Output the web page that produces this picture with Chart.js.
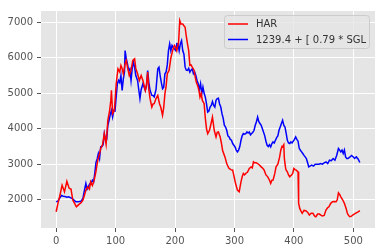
<!DOCTYPE html>
<html>
<head>
<meta charset="utf-8">
<script src="https://cdn.jsdelivr.net/npm/chart.js@4"></script>
<style>
  html, body { margin: 0; padding: 0; background: #fff; }
  #wrap { width: 385px; height: 252px; position: relative; }
</style>
</head>
<body>
<div id="wrap"><canvas id="chart"></canvas></div>
<script>
// ── Series data ──────────────────────────────────────────────────
const SERIES_LABELS = ["HAR", "1239.4 + [ 0.79 * SGL"];

const harX = [0, 3, 6, 10, 14, 18, 22, 25, 28, 31, 34, 37, 39, 42, 45, 48, 50, 53, 56, 58, 61, 64, 67,
  70, 73, 75, 78, 81, 84, 87, 90, 92, 93, 95, 98, 101, 104, 107, 109, 111, 113, 116, 118, 120, 123, 126, 129,
  132, 134, 137, 140, 143, 146, 150, 152, 154, 156, 158, 161, 163, 165, 168, 171, 174, 176, 179, 181, 183, 185,
  187, 190, 193, 196, 199, 201, 203, 206, 208, 210, 213, 215, 217, 219, 221, 223, 225, 227, 229, 232, 234, 236,
  238, 240, 242, 244, 246, 249, 251, 253, 255, 258, 260, 263, 266, 269, 271, 273, 276, 278, 280, 282, 284, 287,
  289, 291, 294, 297, 300, 302, 305, 308, 311, 313, 315, 317, 319, 322, 325, 328, 330, 332, 334, 336, 339, 342,
  345, 348, 350, 353, 356, 359, 361, 363, 365, 368, 370, 373, 376, 378, 380, 381, 383, 384, 386, 387, 389, 391,
  393, 396, 398, 400, 402, 404, 406, 407, 408, 410, 412, 414, 417, 420, 423, 426, 429, 432, 435, 437, 440, 443,
  446, 448, 451, 454, 457, 459, 462, 465, 468, 471, 473, 475, 477, 479, 482, 485, 488, 490, 492, 494, 497, 499,
  502, 505, 508, 511];
const harY = [1663, 1900, 2100, 2413, 2225, 2520, 2320, 2300, 1991, 1900, 1803, 1850, 1879, 1920, 1991, 2150, 2272, 2365, 2300, 2506, 2400, 2553, 2800,
  3115, 3300, 3444, 3550, 3865, 3560, 4239, 4520, 4800, 5082, 4427, 4520, 5270, 5690, 5600, 5784, 5700, 5550, 5830, 5924, 5736, 5503, 5650, 5924,
  5970, 5700, 5550, 5362, 5500, 5362, 5082, 5250, 5596, 5100, 4848, 4612, 4700, 4708, 4850, 4941, 4700, 4612, 4379, 4600, 4989, 5200,
  5550, 5643, 6000, 6205, 6350, 6298, 6200, 6438, 7048, 6955, 6955, 6900, 6860, 6600, 6393, 6200, 5784, 5800, 5736, 5650, 5455, 5300,
  5222, 5100, 4893, 5000, 4800, 4708, 4300, 4000, 3865, 3958, 4100, 4332, 3958, 3770, 3900, 3910, 3770, 3600, 3396, 3300, 3208, 3022,
  2950, 2882, 2850, 2834, 2601, 2450, 2272, 2225, 2506, 2650, 2741, 2700, 2741, 2780, 2882, 2927, 2900, 3068, 3040, 3050, 3022, 2980,
  2927, 2880, 2834, 2700, 2646, 2550, 2460, 2550, 2553, 2750, 2927, 3000, 3200, 3396, 3500, 3489, 3550, 3163, 2900, 2834, 2787, 2700,
  2646, 2700, 2741, 2882, 2850, 2834, 2800, 2787, 1899, 1750, 1680, 1618, 1700, 1691, 1650, 1570, 1620, 1618, 1540, 1522, 1600, 1598,
  1560, 1542, 1560, 1710, 1780, 1803, 1900, 1944, 1950, 1944, 2000, 2197, 2150, 2084, 2000, 1899, 1750, 1618, 1560, 1522, 1540, 1570,
  1600, 1634, 1660, 1691];

const sglX = [0, 3, 6, 9, 12, 15, 18, 21, 24, 27, 30, 33, 36, 39, 42, 45, 48, 50, 52, 55, 57, 59, 61, 63, 65, 67, 69,
  71, 73, 75, 77, 79, 81, 83, 85, 87, 89, 91, 93, 95, 97, 99, 101, 103, 105, 107, 109, 111, 113, 115, 116, 118, 120,
  122, 124, 126, 128, 130, 132, 134, 137, 139, 141, 143, 146, 148, 150, 152, 154, 156, 158, 161, 163, 165, 168, 171, 173,
  175, 177, 179, 181, 183, 185, 187, 189, 191, 193, 195, 197, 199, 201, 203, 205, 207, 209, 211, 213, 215, 217, 219, 221,
  223, 225, 227, 229, 231, 233, 235, 237, 239, 241, 243, 245, 247, 249, 251, 253, 255, 257, 259, 261, 263, 265, 267, 269,
  271, 273, 275, 277, 279, 281, 283, 285, 287, 289, 291, 293, 295, 297, 299, 301, 303, 305, 307, 309, 311, 313, 315, 317,
  319, 321, 323, 325, 327, 329, 331, 333, 335, 337, 339, 341, 343, 345, 347, 349, 351, 353, 355, 357, 359, 361, 363, 365,
  367, 369, 371, 373, 375, 377, 379, 381, 383, 385, 387, 389, 391, 393, 395, 397, 399, 401, 403, 405, 407, 409, 411, 413,
  415, 417, 419, 421, 423, 425, 427, 430, 433, 436, 439, 442, 445, 448, 451, 454, 457, 460, 463, 466, 469, 472, 475, 477,
  479, 481, 483, 485, 487, 489, 491, 494, 497, 500, 502, 505, 508, 511];
const sglY = [1944, 1960, 2050, 2120, 2100, 2090, 2070, 2084, 2060, 2030, 1991, 1944, 1944, 1950, 1960, 2040, 2300, 2460, 2300, 2400, 2460, 2480, 2550, 2500, 2741, 3050, 3150,
  3303, 3163, 3489, 3500, 3550, 3865, 3700, 3700, 4100, 4239, 4400, 4520, 4332, 4520, 4500, 4900, 5270, 5362, 5300, 5500, 5082, 5400, 5600, 6205, 5972, 5831,
  5643, 5690, 5362, 5700, 5877, 5736, 5500, 5362, 5100, 4848, 5100, 5270, 5174, 5082, 5200, 5643, 5300, 5082, 4941, 4940, 4900, 5100, 5690, 5736,
  5500, 5300, 5129, 5174, 5550, 5600, 5800, 6205, 6393, 6200, 6350, 6298, 6250, 6205, 6400, 6393, 6200, 6400, 6486, 6205, 6100, 5736, 5650, 5643,
  5700, 5596, 5650, 5690, 5550, 5600, 5503, 5362, 5270, 5100, 5270, 4989, 5174, 5000, 4893, 4700, 4472, 4500, 4612, 4660, 4768, 4660, 4612, 4800,
  4850, 4860, 4700, 4612, 4427, 4300, 4100, 4051, 3958, 3800, 3770, 3700, 3677, 3584, 3536, 3489, 3400, 3348, 3400, 3500, 3677, 3800, 3865, 3850,
  3865, 3910, 3880, 3910, 3830, 3865, 3900, 3958, 4100, 4200, 4332, 4200, 4150, 4098, 4000, 3900, 3800, 3650, 3536, 3500, 3550, 3489, 3584, 3629,
  3600, 3677, 3750, 3800, 3958, 4051, 4150, 4239, 4100, 4051, 3880, 3677, 3600, 3584, 3629, 3600, 3650, 3700, 3770, 3700, 3650, 3450, 3396, 3350,
  3303, 3250, 3208, 3163, 3050, 2927, 2950, 2975, 2950, 3000, 3003, 3000, 3022, 3003, 3040, 3068, 3022, 3115, 3100, 3163, 3115, 3250, 3444, 3400,
  3348, 3400, 3303, 3400, 3208, 3163, 3163, 3200, 3250, 3208, 3163, 3208, 3150, 3050];

const X_TICKS = [0, 100, 200, 300, 400, 500];
const Y_TICKS = [2000, 3000, 4000, 5000, 6000, 7000];
const COLORS = ["#ff0000", "#0000ff"];

const toPoints = (xs, ys) => xs.map((x, i) => ({ x, y: ys[i] }));

// ── Plugins: grey panel + matplotlib-style legend ────────────────
const panelBg = {
  id: "panelBg",
  beforeDraw(chart) {
    const { ctx, chartArea: a } = chart;
    ctx.save();
    ctx.fillStyle = "#e5e5e5";
    ctx.fillRect(a.left, a.top, a.right - a.left, a.bottom - a.top);
    ctx.restore();
  }
};

const mplLegend = {
  id: "mplLegend",
  afterDraw(chart) {
    const ctx = chart.ctx;
    const x = 224.5, y = 15.5, w = 145, h = 33, r = 3;
    ctx.save();
    ctx.beginPath();
    ctx.roundRect(x, y, w, h, r);
    ctx.fillStyle = "rgba(229,229,229,0.8)";
    ctx.fill();
    ctx.strokeStyle = "#cccccc";
    ctx.lineWidth = 1;
    ctx.stroke();
    ctx.font = "10px 'DejaVu Sans'";
    ctx.textBaseline = "middle";
    chart.data.datasets.forEach((ds, i) => {
      const ly = 24 + i * 15.5;
      ctx.strokeStyle = ds.borderColor;
      ctx.lineWidth = 1.5;
      ctx.beginPath();
      ctx.moveTo(228, ly);
      ctx.lineTo(248, ly);
      ctx.stroke();
      ctx.fillStyle = "#333";
      ctx.fillText(ds.label, 256, ly + 0.5);
    });
    ctx.restore();
  }
};

// ── Chart ────────────────────────────────────────────────────────
const tickFont = { family: "'DejaVu Sans'", size: 10 };

new Chart(document.getElementById("chart"), {
  type: "line",
  data: {
    datasets: [
      { label: SERIES_LABELS[0], data: toPoints(harX, harY), borderColor: COLORS[0], borderWidth: 1.5, pointRadius: 0, fill: false, tension: 0 },
      { label: SERIES_LABELS[1], data: toPoints(sglX, sglY), borderColor: COLORS[1], borderWidth: 1.5, pointRadius: 0, fill: false, tension: 0 },
    ]
  },
  options: {
    responsive: true,
    maintainAspectRatio: false,
    animation: false,
    layout: { padding: { top: 11, right: 10, left: 0, bottom: 0 } },
    plugins: { legend: { display: false }, tooltip: { enabled: false } },
    scales: {
      x: {
        type: "linear", min: -25.5, max: 536.5,
        afterBuildTicks: s => { s.ticks = X_TICKS.map(v => ({ value: v })); },
        afterFit: s => { s.height = 24; },
        border: { display: false },
        grid: { color: "#ffffff", lineWidth: 1, tickColor: "#555555", tickLength: 4 },
        ticks: { color: "#555555", font: tickFont, padding: 3, maxRotation: 0, callback: v => String(v) }
      },
      y: {
        type: "linear", min: 1205, max: 7318,
        afterBuildTicks: s => { s.ticks = Y_TICKS.map(v => ({ value: v })); },
        afterFit: s => { s.width = 41; },
        border: { display: false },
        grid: { color: "#ffffff", lineWidth: 1, tickColor: "#555555", tickLength: 4 },
        ticks: { color: "#555555", font: tickFont, padding: 4, callback: v => String(v) }
      }
    }
  },
  plugins: [panelBg, mplLegend]
});
</script>
</body>
</html>
